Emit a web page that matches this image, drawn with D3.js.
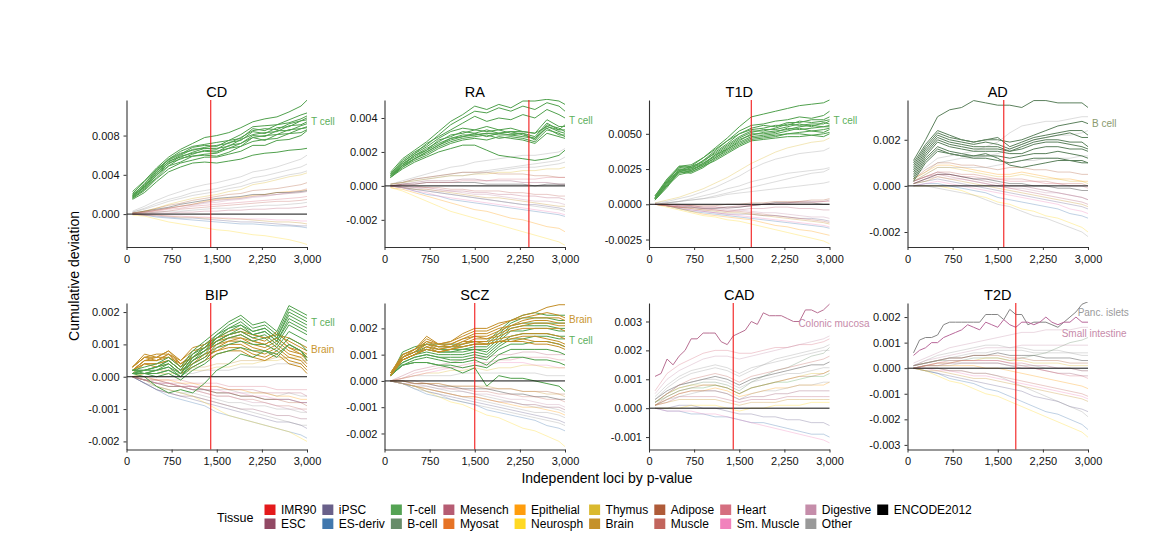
<!DOCTYPE html>
<html><head><meta charset="utf-8">
<script src="https://cdn.jsdelivr.net/npm/d3@7"></script>
<style>body{margin:0;background:#fff} svg{display:block;font-family:"Liberation Sans",Arial,Helvetica,sans-serif}</style>
</head><body><svg id="c" width="1162" height="556"></svg>
<script>
// ---------- shared grids ----------
const X = [100,300,500,700,900,1100,1300,1500,1700,1900,2100,2300,2500,2700,2900,3000];
const XF = [100,200,300,400,500,600,700,800,900,1000,1100,1200,1300,1400,1500,1600,1700,1800,1900,2000,2100,2200,2300,2400,2500,2600,2700,2800,2900,3000];
const xTicks = [0,750,1500,2250,3000];
const panelNames = ["CD","RA","T1D","AD","BIP","SCZ","CAD","T2D"];
const vlines = [1400,2400,1700,1600,1400,1500,1400,1800];

// legend
const tissues = ["IMR90","ESC","iPSC","ES-deriv","T-cell","B-cell","Mesench","Myosat","Epithelial","Neurosph","Thymus","Brain","Adipose","Muscle","Heart","Sm. Muscle","Digestive","Other","ENCODE2012"];
const tissueColors = ["#E41A1C","#924965","#69608A","#4178AE","#55A354","#678C69","#B65C73","#E67326","#FF9D0C","#FFD924","#DAB92E","#C5912B","#AF5B39","#C2655D","#D56F80","#F182BC","#C58DAA","#999999","#000000"];

// ---------- tick values ----------
const CD_ticks=[0,0.004,0.008], RA_ticks=[-0.002,0,0.002,0.004], T1D_ticks=[-0.0025,0,0.0025,0.005], AD_ticks=[-0.002,0,0.002];
const BIP_ticks=[-0.002,-0.001,0,0.001,0.002], SCZ_ticks=[-0.002,-0.001,0,0.001,0.002], CAD_ticks=[-0.001,0,0.001,0.002,0.003], T2D_ticks=[-0.003,-0.002,-0.001,0,0.001,0.002];

// ---------- data (units of 1e-4) ----------
// CD
const CD_tcell = [
[23,34,47,58,66,72,78,80,83,88,94,97,99,104,110,116],
[21,33,45,56,64,69,71,73,75,81,89,90,91,96,101,103],
[20,30,46,55,61,68,70,69,75,77,87,85,91,93,97,100],
[19,31,43,56,62,65,68,70,72,78,85,87,86,92,95,98],
[19,28,44,53,60,66,67,66,73,75,84,82,88,89,95,96],
[18,29,41,54,58,63,67,67,69,76,81,83,84,90,91,94],
[18,27,42,51,59,62,64,63,70,72,80,79,85,85,90,92],
[17,28,39,52,56,61,65,64,67,72,78,80,81,86,87,89],
[17,25,40,49,57,59,61,62,67,69,78,75,81,82,87,88],
[16,26,37,49,53,59,60,59,63,69,74,76,77,82,83,86],
[16,24,36,46,52,55,58,58,61,64,70,70,75,76,80,85],
[15,22,33,43,48,52,53,52,54,56,60,62,63,65,66,67]];
const CD_bg = [
[3,8,14,19,23,27,30,32,35,38,43,45,48,52,56,60],
[2,6,11,15,18,22,24,26,29,32,37,39,42,45,48,51],
[1,3,6,9,11,14,16,18,20,21,24,25,26,28,30,32],
[0,2,4,6,8,10,13,15,16,17,19,20,22,23,24,25],
[0,-1,-2,-3,-4,-4,-5,-6,-7,-8,-8,-9,-10,-11,-12,-12],
[0,-1,-3,-4,-5,-6,-7,-8,-9,-10,-10,-11,-12,-12,-13,-14],
[-1,-2,-5,-8,-10,-12,-14,-16,-17,-19,-21,-22,-24,-26,-29,-31],
[1,2,4,6,8,10,12,14,15,16,18,19,20,21,22,23],
[2,5,9,13,16,19,21,23,26,28,32,34,37,40,42,44],
[1,2,3,5,6,8,9,10,11,12,13,14,15,16,17,18],
[0,1,2,3,5,6,7,8,9,10,11,12,13,13,14,15],
[1,3,5,7,10,12,14,16,17,18,20,20,22,22,23,24],
[0,0,1,1,2,2,3,3,4,4,5,5,6,6,7,8],
[0,-1,-1,-2,-3,-3,-4,-4,-5,-5,-6,-7,-8,-8,-9,-10],
[1,3,6,10,13,16,18,20,23,25,30,32,35,38,40,42],
[1,2,4,6,8,9,11,12,14,15,17,18,20,22,24,26],
[0,1,2,3,3,4,5,6,6,7,8,9,9,10,11,12],
[0,-1,-1,-2,-2,-3,-3,-4,-4,-5,-5,-5,-6,-6,-7,-7]];
const CD_bgTissue = ["Other","Other","Adipose","Epithelial","iPSC","ES-deriv","Neurosph","ESC","Other","Heart","Muscle","ENCODE2012","Mesench","Brain","Thymus","Digestive","Other","Sm. Muscle"];

// RA
const RA_tcell = [
[8,16,21,26,32,38,42,47,45,48,46,50,50,51,50,48],
[7,15,20,24,30,36,40,44,43,46,44,47,45,49,47,44],
[7,14,19,25,29,33,37,41,38,40,39,42,40,45,42,40],
[7,14,19,23,28,32,34,33,35,33,34,32,31,39,35,35],
[6,13,18,22,26,30,31,33,32,33,31,31,29,37,33,33],
[6,12,18,21,27,29,32,31,33,31,32,30,28,36,34,32],
[6,13,17,21,25,28,30,30,31,30,30,31,27,35,32,31],
[5,11,16,20,24,28,29,31,29,31,30,29,28,34,30,30],
[5,12,16,19,23,26,28,29,30,28,29,28,26,33,31,29],
[5,11,15,18,22,25,27,28,27,29,28,27,25,31,29,28],
[5,10,14,17,20,22,24,24,21,18,17,16,15,16,18,21],
[6,12,16,20,24,27,29,30,31,31,32,32,31,35,33,36]];
const RA_bg = [
[1,3,5,7,9,11,12,14,15,16,17,18,18,19,20,22],
[1,2,4,5,6,7,8,8,9,10,11,12,13,14,15,17],
[1,2,4,5,6,7,8,8,8,7,7,7,6,6,5,5],
[0,1,2,3,3,3,4,4,3,3,3,2,2,2,1,1],
[0,1,1,2,2,2,2,2,1,1,1,1,0,1,1,1],
[0,0,-1,-1,-2,-3,-3,-4,-4,-5,-5,-6,-6,-7,-7,-8],
[0,-1,-2,-3,-4,-5,-6,-7,-8,-9,-10,-11,-11,-12,-13,-14],
[0,-1,-3,-5,-6,-8,-9,-10,-11,-12,-13,-14,-15,-16,-17,-18],
[-1,-3,-6,-9,-12,-15,-17,-19,-21,-23,-25,-27,-29,-31,-33,-35],
[-1,-2,-4,-6,-8,-10,-12,-14,-15,-17,-19,-20,-22,-24,-25,-27],
[0,1,1,2,2,2,3,3,3,4,4,4,4,5,5,5],
[0,0,0,-1,-1,-2,-2,-3,-3,-3,-4,-4,-5,-5,-6,-6],
[0,-1,-2,-2,-3,-4,-5,-6,-7,-7,-8,-9,-10,-11,-12,-12],
[1,2,3,4,5,6,6,7,7,8,8,9,9,10,10,11],
[0,-1,-1,-2,-3,-3,-4,-5,-5,-6,-7,-8,-9,-9,-10,-11],
[0,-1,-2,-3,-4,-5,-6,-7,-8,-9,-10,-11,-12,-13,-14,-15],
[0,-1,-3,-4,-6,-7,-8,-9,-10,-11,-12,-13,-14,-15,-16,-17],
[1,2,3,4,5,6,6,7,8,9,10,11,11,12,13,14]];
const RA_bgTissue = ["Other","Other","Adipose","ESC","ENCODE2012","Mesench","iPSC","ES-deriv","Neurosph","Epithelial","Heart","Muscle","Brain","Thymus","Digestive","Other","Sm. Muscle","Other"];

// T1D
const T1D_tcell = [
[6,18,27,28,33,40,47,55,62,64,66,68,70,71,72,74],
[6,17,26,27,33,39,45,52,56,57,59,60,62,61,63,66],
[5,16,27,26,31,38,45,50,54,56,55,58,58,60,60,62],
[5,17,24,27,30,37,43,50,53,54,56,56,59,58,59,60],
[5,15,25,25,31,36,42,48,52,52,54,57,56,57,57,59],
[4,16,23,26,29,35,41,47,51,53,53,55,57,55,58,57],
[4,14,25,24,29,34,40,46,49,51,52,53,55,56,55,56],
[4,15,23,25,28,35,39,45,50,50,51,54,53,54,55,55],
[4,13,24,23,27,33,39,44,48,49,50,52,54,52,53,54],
[3,14,22,24,28,33,38,43,47,48,49,50,51,52,51,53],
[3,12,23,22,26,32,37,42,46,47,48,50,50,49,50,51],
[3,13,21,23,27,31,36,41,45,46,47,48,48,49,48,50]];
const T1D_bg = [
[1,3,5,8,11,15,19,24,29,33,37,40,42,44,45,47],
[1,2,4,6,9,12,16,20,25,29,32,34,36,37,38,40],
[0,1,2,4,6,8,11,13,16,18,20,22,23,24,25,26],
[0,1,2,3,4,5,7,8,9,10,11,12,13,14,15,16],
[0,0,-1,-1,-2,-2,-3,-2,-1,0,1,1,2,2,2,3],
[0,-1,-2,-2,-3,-3,-2,-2,-1,0,1,1,1,1,0,0],
[0,-1,-2,-3,-4,-4,-5,-4,-3,-3,-2,-2,-3,-3,-4,-4],
[0,-1,-3,-4,-5,-6,-7,-7,-7,-8,-8,-9,-10,-10,-11,-12],
[0,-1,-3,-5,-6,-7,-8,-9,-10,-11,-12,-13,-14,-15,-16,-17],
[0,-2,-4,-6,-8,-9,-11,-12,-14,-16,-18,-20,-22,-24,-26,-28],
[0,-1,-3,-5,-7,-8,-9,-10,-11,-13,-15,-16,-18,-19,-21,-22],
[0,-1,-2,-3,-4,-5,-6,-6,-7,-8,-9,-10,-11,-12,-13,-14],
[0,0,-1,-1,-2,-2,-2,-1,-1,0,0,1,1,1,2,2],
[0,1,2,3,4,6,8,10,12,14,16,18,20,22,23,25],
[0,-1,-2,-2,-3,-4,-5,-5,-6,-7,-8,-9,-10,-11,-12,-13],
[0,0,-1,-2,-3,-3,-4,-4,-5,-6,-6,-7,-8,-9,-9,-10],
[0,0,0,-1,-1,-1,0,0,1,1,2,2,2,3,3,4],
[0,-1,-2,-4,-5,-6,-7,-8,-9,-10,-11,-12,-13,-14,-15,-16]];
const T1D_bgTissue = ["Thymus","Other","Other","Other","ESC","ENCODE2012","Mesench","iPSC","ES-deriv","Neurosph","Epithelial","Brain","Heart","Other","Muscle","Digestive","Adipose","Sm. Muscle"];

// AD
const AD_bcell = [
[11,20,30,33,34,37,36,35,35,34,37,37,36,36,36,34],
[10,18,24,22,20,19,20,21,17,19,21,22,23,24,24,22],
[9,17,23,21,20,19,20,20,19,20,22,24,26,27,28,27],
[8,16,22,20,19,18,19,18,16,18,20,21,22,23,21,21],
[7,15,21,19,18,17,17,17,15,17,19,20,20,19,19,17],
[6,14,20,18,17,16,16,16,15,16,18,19,19,18,17,16],
[5,13,19,17,16,15,15,15,14,14,16,17,17,16,16,15],
[4,12,17,15,14,13,13,13,12,13,14,14,15,14,13,12],
[3,11,16,14,13,12,12,11,10,11,12,12,12,11,11,10],
[2,10,15,14,13,13,14,12,9,8,9,10,11,11,10,10]];
const AD_bg = [
[4,8,12,13,14,15,17,19,23,26,27,28,28,29,30,30],
[3,6,10,11,12,12,13,14,16,18,20,21,22,22,23,24],
[3,7,10,10,9,9,8,7,8,8,7,7,6,6,5,5],
[3,6,9,9,8,7,6,5,5,6,5,4,3,3,2,2],
[2,5,8,8,7,6,5,4,4,5,4,3,3,2,2,1],
[2,4,6,5,4,3,2,1,0,0,-1,-2,-3,-4,-5,-6],
[2,4,5,4,3,2,1,0,-1,-2,-3,-4,-5,-6,-7,-8],
[1,2,3,2,1,0,-1,-2,-3,-4,-5,-6,-7,-8,-9,-10],
[0,1,1,0,-1,-2,-3,-5,-6,-7,-8,-9,-10,-12,-13,-14],
[0,0,0,-1,-2,-4,-5,-7,-8,-10,-11,-13,-14,-16,-18,-20],
[1,3,5,5,4,4,3,3,2,2,2,1,1,0,0,-1],
[2,4,6,6,5,5,4,3,3,3,2,2,1,1,1,0],
[1,2,4,3,2,1,0,-1,-2,-3,-4,-5,-6,-7,-8,-9],
[1,3,4,3,3,2,1,0,-1,-1,-2,-3,-3,-4,-5,-6],
[0,1,2,1,0,-1,-2,-3,-4,-5,-6,-7,-8,-10,-11,-12],
[2,5,8,8,8,8,8,9,10,11,11,12,12,12,13,13],
[1,3,5,5,4,3,3,2,1,1,0,0,-1,-1,-2,-2],
[0,0,-1,-2,-3,-4,-6,-8,-9,-11,-13,-14,-16,-18,-20,-22]];
const AD_bgTissue = ["Other","Other","Adipose","Epithelial","Thymus","ESC","Mesench","iPSC","ES-deriv","Neurosph","Heart","Muscle","Brain","Digestive","Sm. Muscle","Other","ENCODE2012","Other"];

// BIP
const BIP_tcell = [
[2,3,4,6,3,8,11,14,17,19,16,17,14,22,20,19],
[2,2,3,5,2,7,10,13,16,18,15,16,13,21,19,18],
[2,2,3,5,2,7,9,13,15,17,14,15,12,20,18,17],
[1,2,3,4,1,6,9,12,15,16,14,15,12,19,17,16],
[1,2,2,4,1,6,8,12,14,16,13,14,11,18,16,15],
[1,1,2,3,1,5,8,11,13,15,13,14,11,17,15,14],
[1,1,2,3,0,5,7,11,13,14,12,13,10,16,14,13],
[1,1,1,2,0,4,6,10,12,13,11,12,9,14,12,11],
[1,1,1,2,0,3,5,9,10,11,10,10,8,12,10,8],
[2,1,0,1,-1,2,4,7,8,9,8,8,7,10,8,6],
[1,0,-3,-5,-4,-5,-2,2,4,7,6,8,6,10,8,5]];
const BIP_brain = [
[3,6,7,7,5,8,9,11,13,14,12,11,14,10,8,7],
[3,7,6,8,4,7,10,12,14,15,13,12,13,11,9,8],
[2,5,6,6,4,6,8,10,12,13,11,10,12,9,7,6],
[3,6,5,7,3,6,9,11,12,12,10,9,11,8,7,5],
[2,5,5,6,3,5,7,9,11,11,9,8,10,7,6,4],
[2,4,4,5,2,4,7,8,10,10,8,7,9,6,5,3],
[2,4,4,5,2,4,6,8,9,9,7,6,8,5,4,2],
[3,6,6,8,5,9,10,12,13,14,13,12,13,12,10,9],
[1,4,3,4,1,3,5,7,8,8,6,5,7,4,3,1],
[2,5,5,7,4,6,8,10,11,12,11,10,12,9,8,6]];
const BIP_bg = [
[0,-1,-2,-2,-3,-3,-4,-4,-4,-5,-5,-5,-6,-5,-6,-6],
[0,-2,-3,-4,-5,-5,-6,-7,-8,-8,-9,-9,-10,-10,-11,-11],
[0,-1,-2,-3,-3,-4,-4,-5,-5,-6,-6,-7,-7,-7,-8,-8],
[0,-2,-4,-5,-6,-6,-7,-8,-9,-10,-10,-11,-12,-12,-13,-13],
[0,-2,-4,-5,-6,-7,-8,-9,-10,-11,-12,-13,-14,-14,-15,-16],
[0,-2,-4,-6,-7,-8,-9,-11,-12,-13,-14,-15,-16,-17,-18,-19],
[0,-1,-3,-4,-5,-6,-8,-10,-12,-13,-14,-15,-16,-17,-19,-20],
[0,0,-1,-1,-2,-2,-3,-3,-4,-4,-5,-5,-6,-6,-7,-7],
[0,-1,-1,-2,-2,-3,-3,-3,-4,-4,-4,-5,-5,-5,-5,-6],
[0,0,-1,-1,-1,-2,-2,-2,-3,-3,-3,-3,-4,-4,-4,-4],
[0,-1,-2,-3,-3,-4,-5,-6,-6,-7,-7,-8,-9,-9,-10,-10],
[0,1,1,1,1,2,2,3,3,4,4,5,5,6,6,7],
[0,0,0,0,1,1,2,2,2,3,3,3,4,4,4,5],
[0,-1,-2,-2,-3,-4,-5,-6,-6,-7,-8,-8,-9,-10,-10,-11],
[0,-1,-1,-2,-3,-3,-4,-5,-5,-6,-6,-7,-7,-8,-8,-9],
[0,-1,-2,-2,-3,-3,-4,-4,-5,-5,-6,-6,-7,-7,-8,-8],
[0,-1,-3,-4,-5,-6,-7,-8,-9,-10,-11,-12,-13,-14,-15,-15],
[0,1,2,2,2,3,3,4,4,5,5,5,6,6,5,5]];
const BIP_bgTissue = ["Other","Other","ENCODE2012","ESC","iPSC","ES-deriv","Neurosph","Epithelial","Mesench","Heart","Muscle","Thymus","Other","Digestive","Adipose","Sm. Muscle","Other","Brain"];

// SCZ
const SCZ_brain = [
[3,10,12,16,14,15,17,19,19,21,23,25,26,28,29,29],
[3,10,12,17,14,15,18,20,20,22,23,24,25,26,25,24],
[3,9,11,15,13,14,16,18,18,20,21,23,24,24,24,23],
[3,9,12,15,14,14,16,17,17,19,21,22,23,23,22,22],
[2,9,11,14,13,13,15,17,16,18,20,21,22,22,21,21],
[2,8,10,13,12,13,14,16,16,17,19,20,20,20,20,19],
[2,9,11,14,12,13,15,15,15,16,17,18,18,18,17,16],
[2,8,10,13,11,12,14,15,14,15,16,17,17,16,15,14],
[2,8,10,12,11,12,13,14,14,15,15,16,15,15,14,13],
[2,8,10,12,11,12,13,14,14,15,15,15,14,14,13,12]];
const SCZ_tcell = [
[2,11,13,14,14,14,14,15,15,19,23,25,26,25,25,25],
[2,10,12,14,13,13,13,14,14,18,22,24,24,24,23,23],
[2,9,11,13,12,12,12,13,13,17,21,22,22,22,22,22],
[2,9,11,12,11,11,12,12,12,16,20,21,21,21,20,20],
[2,8,10,12,11,11,11,12,11,15,19,19,20,20,19,19],
[2,8,10,11,10,10,10,11,10,14,17,18,18,18,17,17],
[2,7,9,10,9,9,9,10,9,13,16,16,17,17,16,16],
[2,7,9,10,9,8,8,9,8,12,14,14,15,15,14,13],
[2,6,8,9,8,7,7,8,6,10,12,12,12,12,11,10],
[2,6,7,7,6,6,5,6,5,8,9,9,8,8,7,6],
[2,6,7,7,6,5,3,5,-2,2,1,1,0,-1,-2,-4]];
const SCZ_bg = [
[0,2,4,5,6,7,8,9,9,10,10,11,11,10,10,10],
[0,1,3,4,5,5,6,7,7,8,8,9,9,9,8,8],
[0,1,2,2,2,2,3,3,3,3,3,3,3,2,2,2],
[0,0,-1,-1,-2,-2,-3,-3,-3,-4,-5,-5,-6,-6,-7,-7],
[0,-1,-2,-3,-4,-5,-6,-6,-7,-8,-8,-9,-9,-10,-10,-11],
[0,-1,-2,-3,-4,-5,-6,-7,-8,-9,-10,-11,-12,-12,-13,-14],
[0,-1,-2,-4,-5,-6,-7,-8,-9,-10,-11,-12,-13,-14,-15,-16],
[0,-1,-3,-5,-6,-7,-8,-9,-11,-12,-13,-14,-15,-17,-18,-19],
[0,-1,-2,-4,-6,-8,-9,-11,-13,-14,-16,-18,-19,-21,-23,-25],
[0,-1,-2,-3,-4,-5,-6,-6,-7,-8,-9,-10,-10,-11,-12,-13],
[0,0,-1,-1,-2,-3,-3,-4,-4,-5,-5,-6,-6,-7,-7,-8],
[0,0,0,-1,-1,-2,-2,-2,-3,-3,-3,-4,-4,-4,-5,-5],
[0,1,2,3,3,4,4,5,4,5,5,6,6,5,5,5],
[0,-1,-1,-2,-3,-3,-4,-5,-5,-6,-7,-7,-8,-9,-9,-10],
[0,1,2,3,4,5,5,6,6,7,7,7,6,6,5,5],
[0,-1,-2,-2,-3,-4,-4,-5,-6,-7,-8,-9,-10,-10,-11,-12],
[0,-1,-3,-4,-5,-7,-8,-9,-10,-11,-12,-13,-14,-15,-16,-17],
[0,0,-1,-1,-1,-2,-2,-2,-2,-3,-3,-4,-4,-5,-5,-6]];
const SCZ_bgTissue = ["Mesench","Heart","Other","ENCODE2012","ESC","Other","iPSC","ES-deriv","Neurosph","Epithelial","Muscle","Adipose","Thymus","Digestive","Sm. Muscle","Other","Other","Brain"];

// CAD (colonic mucosa on the fine grid)
const CAD_colonic = [11,12,17,15,18,20,24,24,26,26,26,23,22,25,26,27,30,29,33,32,32,32,31,30,30,34,34,33,34,36];
const CAD_bg = [
[6,12,15,17,19,20,20,19,19,20,21,21,22,22,23,24],
[5,10,13,15,17,18,18,17,18,19,20,21,22,23,24,25],
[4,8,11,13,14,15,14,12,14,15,17,18,19,20,21,22],
[3,6,8,9,10,11,10,8,10,11,12,13,14,15,15,16],
[2,5,7,8,9,9,8,6,9,11,13,14,16,18,19,21],
[2,5,7,8,8,8,7,5,7,8,9,10,11,12,12,13],
[1,3,5,6,6,7,6,4,5,6,7,7,8,8,8,9],
[2,5,8,9,10,10,9,7,9,10,11,12,12,13,14,14],
[1,3,5,6,6,6,5,3,4,4,5,5,6,6,6,6],
[1,2,4,4,4,4,3,2,3,3,3,4,4,4,4,4],
[0,0,1,1,0,0,-1,-2,-2,-3,-3,-4,-4,-5,-5,-6],
[0,-1,-1,-2,-2,-3,-3,-4,-5,-5,-6,-7,-8,-9,-9,-10],
[0,0,0,1,1,1,0,-1,0,0,1,1,1,2,2,2],
[2,5,8,10,11,12,11,9,11,12,13,14,15,16,17,18],
[1,4,6,7,8,8,7,5,7,8,9,10,11,11,12,13],
[0,-1,-1,-1,-2,-2,-3,-4,-5,-6,-7,-8,-9,-10,-11,-12],
[1,3,4,5,6,6,5,3,5,6,6,7,8,8,9,9],
[1,2,3,3,3,3,2,1,2,2,2,3,3,3,3,3],
[3,7,10,12,13,14,13,11,13,15,16,17,18,19,20,20],
[2,4,6,7,7,8,7,5,7,8,9,9,10,11,11,12]];
const CAD_bgTissue = ["Heart","Digestive","Other","ENCODE2012","B-cell","Thymus","Epithelial","Other","ESC","Mesench","iPSC","ES-deriv","Neurosph","Muscle","Adipose","Sm. Muscle","Other","Brain","Other","T-cell"];

// T2D (islets and small intestine on the fine grid)
const T2D_islets = [6,11,12,12,13,17,18,18,18,18,18,18,21,21,21,19,23,21,21,17,18,18,18,17,16,18,20,22,25,26];
const T2D_smint = [5,7,8,10,10,12,13,14,15,17,16,15,18,17,16,19,17,16,18,18,17,18,20,18,17,18,18,20,18,18];
const T2D_bg = [
[2,4,6,8,9,10,11,12,13,14,14,15,15,15,16,16],
[1,3,5,6,7,8,9,9,8,8,7,7,7,6,6,6],
[1,2,3,4,4,5,5,6,5,5,5,4,4,4,3,3],
[1,2,3,3,3,4,4,4,3,4,5,6,8,10,11,12],
[0,1,2,2,3,3,4,4,3,3,2,2,2,1,1,1],
[0,1,1,1,1,1,0,0,-1,-2,-3,-4,-5,-6,-7,-8],
[0,1,1,2,2,2,2,2,1,0,0,-1,-2,-2,-3,-3],
[0,1,2,2,3,3,3,3,2,2,1,1,0,0,-1,-1],
[0,-1,-2,-3,-4,-5,-6,-7,-8,-9,-11,-12,-13,-15,-16,-17],
[0,-1,-2,-4,-5,-6,-8,-9,-11,-13,-15,-17,-18,-20,-22,-24],
[0,-1,-3,-5,-6,-8,-10,-11,-13,-15,-17,-19,-21,-23,-25,-27],
[0,0,0,-1,-1,-2,-2,-3,-4,-5,-6,-7,-8,-9,-10,-11],
[1,2,3,4,4,5,5,5,4,4,3,3,3,2,2,2],
[0,0,-1,-1,-2,-3,-3,-4,-5,-6,-7,-8,-9,-10,-11,-12],
[1,2,3,4,5,6,6,7,7,7,6,6,6,6,5,5],
[1,3,4,5,6,7,8,8,8,9,9,9,9,9,9,9],
[0,1,2,3,3,3,3,3,2,1,0,-1,-2,-3,-3,-4],
[0,-1,-1,-2,-3,-4,-4,-5,-6,-7,-8,-9,-10,-11,-12,-13],
[0,0,0,-1,-1,-2,-2,-3,-5,-7,-9,-11,-13,-15,-17,-19],
[0,1,1,1,2,2,2,2,1,1,1,0,0,0,-1,-1]];
const T2D_bgTissue = ["Digestive","Other","ENCODE2012","B-cell","Thymus","Epithelial","ESC","Mesench","iPSC","ES-deriv","Neurosph","Muscle","Adipose","Sm. Muscle","Other","Digestive","Heart","Brain","Other","Other"];

// ---------- layout / styling ----------
const colX = [126.5, 384.5, 649, 907.5], PW = 180.5;
const rowY = [[100,247],[303,449.5]];
const yDomains = [[-0.00335,0.01162],[-0.0036,0.00506],[-0.00303,0.0074],[-0.00265,0.003725],
                  [-0.00225,0.00228],[-0.00261,0.002966],[-0.00143,0.00364],[-0.00318,0.00255]];
const tickSets = [CD_ticks,RA_ticks,T1D_ticks,AD_ticks,BIP_ticks,SCZ_ticks,CAD_ticks,T2D_ticks];
const tickFmts = [".3f",".3f",".4f",".3f",".3f",".3f",".3f",".3f"];
const bgSets = [[CD_bg,CD_bgTissue],[RA_bg,RA_bgTissue],[T1D_bg,T1D_bgTissue],[AD_bg,AD_bgTissue],[BIP_bg,BIP_bgTissue],[SCZ_bg,SCZ_bgTissue],[CAD_bg,CAD_bgTissue],[T2D_bg,T2D_bgTissue]];
const GREEN="#50A04D", GOLD="#C38E27";
const hlSets = [
 [{lines:CD_tcell, grid:X, color:GREEN}],
 [{lines:RA_tcell, grid:X, color:GREEN}],
 [{lines:T1D_tcell, grid:X, color:GREEN}],
 [{lines:AD_bcell, grid:X, color:"#5C815D"}],
 [{lines:BIP_brain, grid:X, color:GOLD},{lines:BIP_tcell, grid:X, color:GREEN}],
 [{lines:SCZ_tcell, grid:X, color:GREEN},{lines:SCZ_brain, grid:X, color:GOLD}],
 [{lines:[CAD_colonic], grid:XF, color:"#B86F92"}],
 [{lines:[T2D_islets], grid:XF, color:"#858585"},{lines:[T2D_smint], grid:XF, color:"#B8689A"}]];
// label anchors: [text, x (loci), y (value), pixel dx, colour]
const labelSets = [
 [["T cell",3000,0.0094,4,"#5DB05B"]],
 [["T cell",3000,0.00385,4,"#5DB05B"]],
 [["T cell",3000,0.00595,4,"#5DB05B"]],
 [["B cell",3000,0.0027,4,"#8A9B6E"]],
 [["T cell",3000,0.00168,4,"#5DB05B"],["Brain",3000,0.000845,4,"#C9962F"]],
 [["Brain",3000,0.00234,4,"#C9962F"],["T cell",3000,0.00155,4,"#5DB05B"]],
 [["Colonic mucosa",2483,0.00294,0,"#C78BAA"]],
 [["Panc. islets",2828,0.00218,0,"#9A9A9A"],["Small intestine",2562,0.00137,0,"#C78BAA"]]];

const loc = d3.formatLocale({decimal:".",thousands:",",grouping:[3],currency:["$",""],minus:"-"});
const svg = d3.select("#c");
const tcol = t => tissueColors[tissues.indexOf(t)];

panelNames.forEach((name,p)=>{
  const r = Math.floor(p/4), c = p%4;
  const x0 = colX[c], top = rowY[r][0], bot = rowY[r][1];
  const x = d3.scaleLinear().domain([0,3000]).range([x0, x0+PW]);
  const y = d3.scaleLinear().domain(yDomains[p]).range([bot, top]);
  const g = svg.append("g");
  const clip = "clip"+p;
  g.append("clipPath").attr("id",clip).append("rect").attr("x",x0).attr("y",top-1).attr("width",PW+1).attr("height",bot-top+1);
  const lines = g.append("g").attr("clip-path",`url(#${clip})`);
  const mk = grid => d3.line().x((d,i)=>x(grid[i])).y(d=>y(d/1e4));
  const [bg, bgT] = bgSets[p];
  lines.selectAll(".bg").data(bg).join("path").attr("d",mk(X))
    .attr("fill","none").attr("stroke",(d,i)=>tcol(bgT[i])).attr("stroke-opacity",0.4).attr("stroke-width",0.85);
  hlSets[p].forEach(h=>{
    lines.append("g").selectAll("path").data(h.lines).join("path").attr("d",mk(h.grid))
      .attr("fill","none").attr("stroke",h.color).attr("stroke-width",1).attr("stroke-linejoin","round");
  });
  // zero line
  lines.append("line").attr("x1",x(0)).attr("x2",x(3000)).attr("y1",y(0)).attr("y2",y(0))
    .attr("stroke","#111").attr("stroke-width",1);
  // red significance line
  g.append("line").attr("x1",x(vlines[p])).attr("x2",x(vlines[p])).attr("y1",top).attr("y2",bot)
    .attr("stroke","#F21A1A").attr("stroke-width",1.1);
  // axes
  const ya = g.append("g").attr("transform",`translate(${x0},0)`)
    .call(d3.axisLeft(y).tickValues(tickSets[p]).tickFormat(loc.format(tickFmts[p])).tickSize(3).tickSizeOuter(0).tickPadding(4));
  const xa = g.append("g").attr("transform",`translate(0,${bot})`)
    .call(d3.axisBottom(x).tickValues(xTicks).tickFormat(loc.format(",")).tickSize(3).tickSizeOuter(0).tickPadding(5));
  [ya,xa].forEach(a=>{
    a.select(".domain").attr("stroke","#333").attr("stroke-width",1.1);
    a.selectAll(".tick line").attr("stroke","#333");
    a.selectAll("text").attr("font-size",11).attr("fill","#111").attr("font-family","Liberation Sans, Arial, sans-serif");
  });
  // title
  g.append("text").attr("x",x(1500)).attr("y",top-3.5).attr("text-anchor","middle")
    .attr("font-size",14.5).attr("fill","#000").text(name);
  // labels
  labelSets[p].forEach(([t,lx,ly,dx,col])=>{
    g.append("text").attr("x",x(lx)+dx).attr("y",y(ly)).attr("dy","0.35em")
      .attr("font-size",10).attr("fill",col).text(t);
  });
});

// axis titles
svg.append("text").attr("transform","translate(79,276) rotate(-90)").attr("text-anchor","middle")
  .attr("font-size",14).attr("fill","#000").text("Cumulative deviation");
svg.append("text").attr("x",607).attr("y",483).attr("text-anchor","middle")
  .attr("font-size",14).attr("fill","#000").text("Independent loci by p-value");

// legend
const lg = svg.append("g");
lg.append("text").attr("x",217).attr("y",522).attr("font-size",12.5).attr("fill","#000").text("Tissue");
let cx = 264.5;
for (let k=0;k<tissues.length;k+=2){
  const col = [k,k+1].filter(i=>i<tissues.length);
  let maxW = 0;
  col.forEach((i,row)=>{
    const yy = 504.5 + row*14;
    lg.append("rect").attr("x",cx).attr("y",yy).attr("width",11).attr("height",10.5).attr("fill",tissueColors[i]);
    const t = lg.append("text").attr("x",cx+16.5).attr("y",yy+9.5).attr("font-size",12).attr("fill","#000").text(tissues[i]);
    maxW = Math.max(maxW, t.node().getComputedTextLength());
  });
  cx += 16.5 + maxW + 6;
}
</script></body></html>
